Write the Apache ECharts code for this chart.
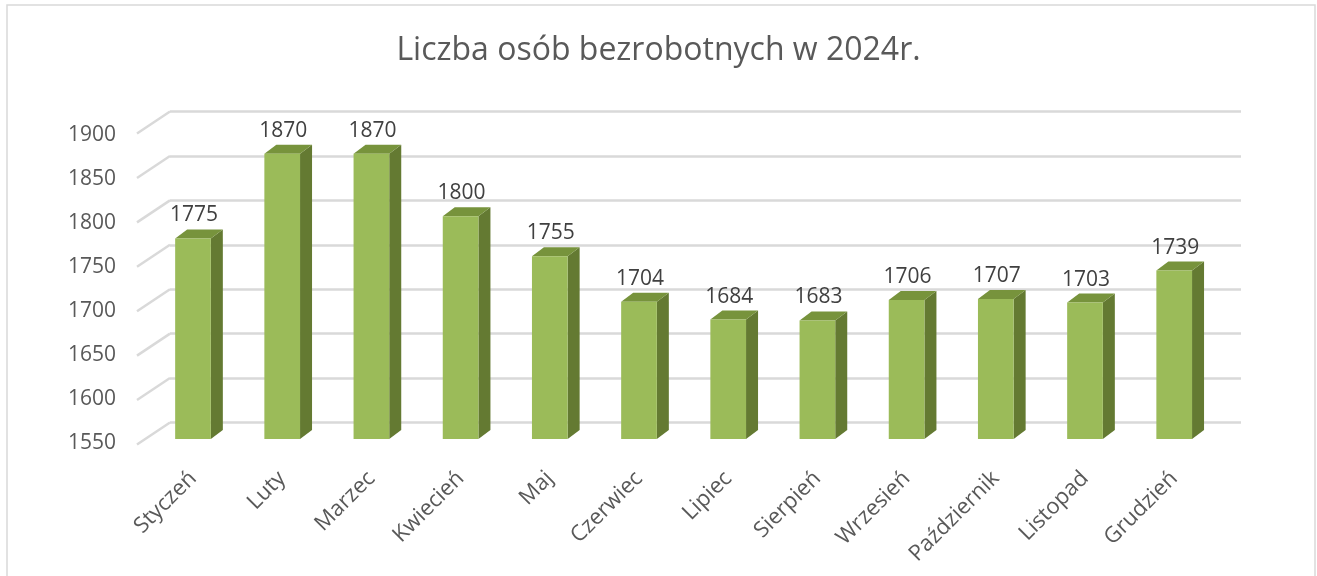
<!DOCTYPE html>
<html>
<head>
<meta charset="utf-8">
<script src="https://cdn.jsdelivr.net/npm/echarts@6/dist/echarts.min.js"></script>
<style>
html,body{margin:0;padding:0;background:#fff;}
#chart{width:1317px;height:576px;}
</style>
</head>
<body>
<div id="chart"></div>
<script>
const categories = ['Styczeń','Luty','Marzec','Kwiecień','Maj','Czerwiec','Lipiec','Sierpień','Wrzesień','Październik','Listopad','Grudzień'];
const values = [1775,1870,1870,1800,1755,1704,1684,1683,1706,1707,1703,1739];
const yTicks = [1550,1600,1650,1700,1750,1800,1850,1900];
const titleText = 'Liczba osób bezrobotnych w 2024r.';

const FONT = '"Open Sans", "Noto Sans", sans-serif';
const chart = echarts.init(document.getElementById('chart'));
const DX = 12, DY = -9;        // bar depth
const WDX = -33, WDY = 22;      // wall-to-front offset for tick lines

const option = {
  animation: false,
  backgroundColor: '#fff',
  title: {
    text: titleText,
    left: 'center',
    top: 30,
    textStyle: {fontFamily: FONT, fontSize: 32, fontWeight: 'normal', color: '#595959'}
  },
  graphic: [{
    type: 'rect', shape: {x: 7, y: 5, width: 1308, height: 620},
    style: {fill: 'none', stroke: '#d9d9d9', lineWidth: 1.5}, silent: true, z: 100
  }],
  grid: [
    {left: 148.4, width: 1070.4, top: 127, height: 312},   // bars (front)
    {left: 170, width: 1071, top: 111.5, height: 311},     // back wall
    {left: 137, width: 10, top: 135, height: 308}          // front label axis
  ],
  xAxis: [
    {gridIndex: 0, type: 'category', data: categories, boundaryGap: true,
     axisLine: {show: false}, axisTick: {show: false},
     axisLabel: {rotate: 45, margin: 36, fontFamily: FONT, fontSize: 22, color: '#595959', interval: 0}},
    {gridIndex: 1, type: 'value', min: 0, max: 1, show: false},
    {gridIndex: 2, type: 'value', min: 0, max: 1, show: false}
  ],
  yAxis: [
    {gridIndex: 0, type: 'value', min: 1550, max: 1900, interval: 50, show: false},
    {gridIndex: 1, type: 'value', min: 1550, max: 1900, interval: 50,
     axisLine: {show: false}, axisTick: {show: false}, axisLabel: {show: false},
     splitLine: {show: true, lineStyle: {color: '#d9d9d9', width: 2.5}}},
    {gridIndex: 2, type: 'value', min: 1550, max: 1900, interval: 50,
     axisLine: {show: false}, axisTick: {show: false}, splitLine: {show: false},
     axisLabel: {margin: 21, fontFamily: FONT, fontSize: 21, color: '#595959', formatter: v => String(v)}}
  ],
  series: [
    {
      type: 'custom', xAxisIndex: 1, yAxisIndex: 1, silent: true, z: 1,
      data: yTicks.map(v => [0, v]),
      renderItem: function (params, api) {
        const p = api.coord([0, api.value(1)]);
        return {type: 'line', shape: {x1: p[0] + WDX, y1: p[1] + WDY, x2: p[0], y2: p[1]},
                style: {stroke: '#d9d9d9', lineWidth: 2.5}};
      }
    },
    {
      type: 'custom', xAxisIndex: 0, yAxisIndex: 0, z: 5,
      data: values.map((v, i) => [i, v]),
      renderItem: function (params, api) {
        const v = api.value(1);
        const top = api.coord([api.value(0), v]);
        const bot = api.coord([api.value(0), 1550]);
        const w = api.size([1, 0])[0] * 0.4;
        const x0 = top[0] - w / 2, x1 = top[0] + w / 2;
        const yt = top[1], yb = bot[1];
        return {type: 'group', children: [
          {type: 'polygon', shape: {points: [[x1, yt], [x1 + DX, yt + DY], [x1 + DX, yb + DY], [x1, yb]]},
           style: {fill: '#647a32'}},
          {type: 'polygon', shape: {points: [[x0, yt], [x0 + DX, yt + DY], [x1 + DX, yt + DY], [x1, yt]]},
           style: {fill: '#77933c'}},
          {type: 'rect', shape: {x: x0, y: yt, width: w, height: yb - yt}, style: {fill: '#9bbb59'}},
          {type: 'text', x: top[0] + 1, y: yt - 23,
           style: {text: String(v), fill: '#404040', font: '21px ' + FONT, align: 'center', verticalAlign: 'middle'}}
        ]};
      }
    }
  ]
};
chart.setOption(option);
</script>
</body>
</html>
